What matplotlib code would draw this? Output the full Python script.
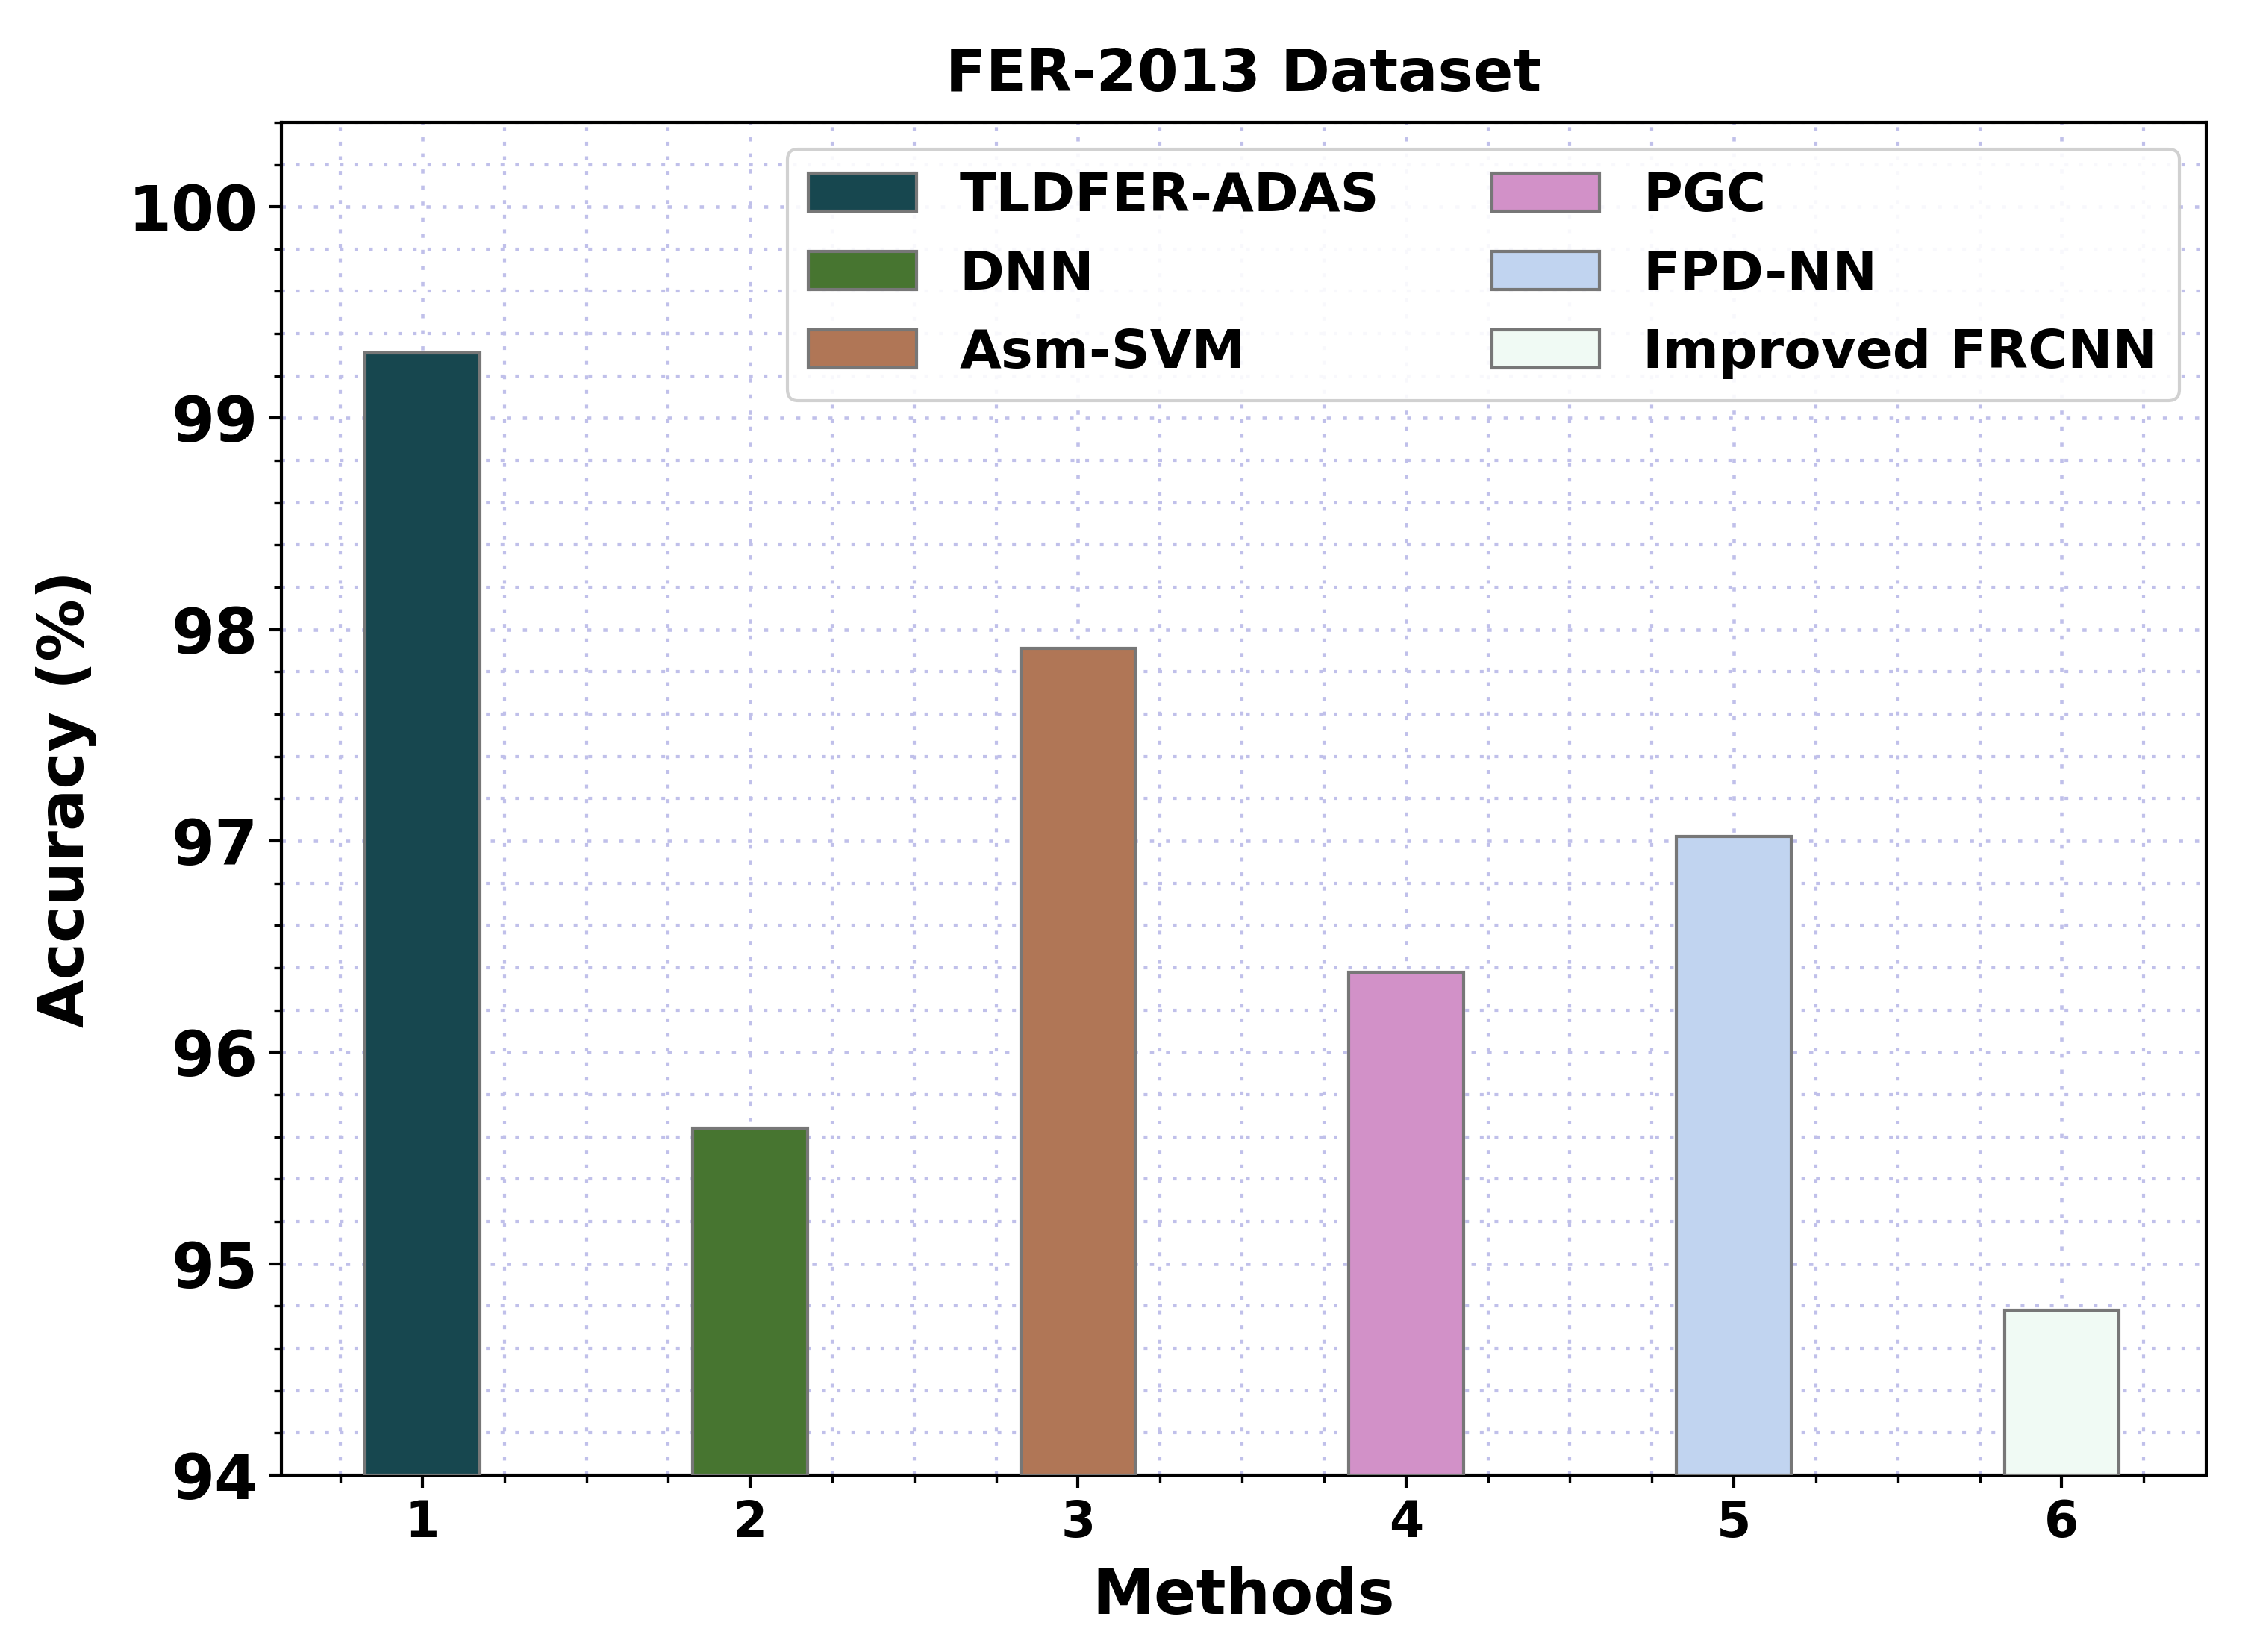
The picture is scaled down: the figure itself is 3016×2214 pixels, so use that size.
import matplotlib
matplotlib.use("Agg")
import matplotlib.pyplot as plt
from matplotlib.ticker import MultipleLocator

methods = ["TLDFER-ADAS", "DNN", "Asm-SVM", "PGC", "FPD-NN", "Improved FRCNN"]
positions = [1, 2, 3, 4, 5, 6]
accuracy = [99.31, 95.64, 97.91, 96.38, 97.02, 94.78]
colors = ["#17474f", "#477530", "#b07656", "#d291c8", "#c1d4f0", "#f0faf4"]

plt.rcParams['font.family'] = ['DejaVu Sans']
plt.rcParams['font.weight'] = 'bold'

fig = plt.figure(figsize=(3016/300, 2214/300), dpi=300)
ax = fig.add_axes([0.125, 0.107, 0.855, 0.819])

for p, v, c, m in zip(positions, accuracy, colors, methods):
    ax.bar(p, v - 94, bottom=94, width=0.35, color=c, edgecolor="#777777",
           linewidth=1.0, label=m, zorder=3)

ax.set_ylim(94, 100.4)
ax.set_xlim(0.57, 6.44)
ax.set_xticks(positions)
ax.set_xticklabels([str(p) for p in positions])
ax.xaxis.set_minor_locator(MultipleLocator(0.25))
ax.yaxis.set_major_locator(MultipleLocator(1))
ax.yaxis.set_minor_locator(MultipleLocator(0.2))

ax.grid(which='major', linestyle=(0, (1.2, 3.5)), color='#c0c0ea', linewidth=1.1, zorder=0)
ax.grid(which='minor', linestyle=(0, (1.2, 3.5)), color='#c0c0ea', linewidth=1.0, zorder=0)
ax.set_axisbelow(True)

for s in ax.spines.values():
    s.set_linewidth(1.0)
ax.tick_params(axis='y', which='major', labelsize=20, length=4, width=1.0)
ax.tick_params(axis='x', which='major', labelsize=16, length=4, width=1.0)
ax.tick_params(which='minor', length=2.5, width=0.8)
for t in ax.get_xticklabels() + ax.get_yticklabels():
    t.set_fontweight('bold')

ax.set_xlabel("Methods", fontsize=20, fontweight='bold', labelpad=6)
ax.set_ylabel("Accuracy (%)", fontsize=20, fontweight='bold', labelpad=10)
ax.set_title("FER-2013 Dataset", fontsize=19, fontweight='bold', pad=10)

leg = ax.legend(ncol=2, loc='upper right', prop={'weight': 'bold', 'size': 17.3},
                handlelength=2.0, handleheight=0.72, handletextpad=0.8,
                columnspacing=2.1, labelspacing=0.5,
                borderpad=0.4, framealpha=0.9, bbox_to_anchor=(1.0, 1.0))
leg.get_frame().set_edgecolor('#cccccc')

fig.savefig("out.png", dpi=300)
